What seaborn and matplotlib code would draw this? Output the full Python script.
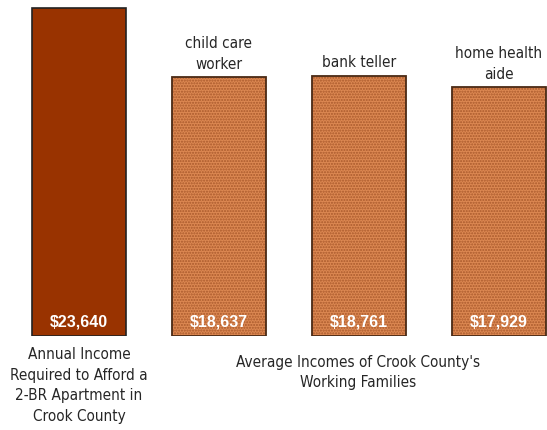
import matplotlib
matplotlib.use("Agg")
import matplotlib.pyplot as plt
import matplotlib.patches as mpatches
import seaborn as sns
import pandas as pd

# data
jobs = ["required", "child care\nworker", "bank teller", "home health\naide"]
incomes = [23640, 18637, 18761, 17929]
top_labels = ["", "child care\nworker", "bank teller", "home health\naide"]

df = pd.DataFrame({"job": jobs, "income": incomes})

sns.set_style("white")
plt.rcParams["font.family"] = ["DejaVu Sans"]
plt.rcParams["font.stretch"] = "condensed"

fig = plt.figure(figsize=(5.47, 4.30), dpi=100)
ax = fig.add_axes([0, 1 - 336 / 430, 1, 336 / 430])

sns.barplot(data=df, x="job", y="income", ax=ax, width=0.67,
            palette=["#993300", "#DC8852", "#DC8852", "#DC8852"],
            hue="job", legend=False, saturation=1)

for i, p in enumerate(list(ax.patches)):
    if i == 0:
        p.set_edgecolor("#222222")
        p.set_linewidth(1.2)
    else:
        # hatch colour follows edge colour, so outline is drawn separately
        p.set_edgecolor("#A9592B")
        p.set_hatch("......")
        p.set_linewidth(0)
        outline = mpatches.Rectangle(p.get_xy(), p.get_width(), p.get_height(),
                                     fill=False, edgecolor="#4a2a15", linewidth=1.3)
        ax.add_patch(outline)

ax.set_xlim(-79 / 140, (547 - 79) / 140)
ax.set_ylim(0, 23640 * 336 / 328)
ax.axis("off")

# value labels inside bars
for i, v in enumerate(incomes):
    ax.text(i, 1000, f"${v:,}", ha="center", va="center", color="white",
            fontsize=11.5, fontweight="bold", family="Liberation Sans", stretch="normal")
    if top_labels[i]:
        ax.annotate(top_labels[i], (i, v), xytext=(0, 4), textcoords="offset points",
                    ha="center", va="bottom", fontsize=11, linespacing=1.45)

fig.text(79 / 547, 1 - 347 / 430, "Annual Income\nRequired to Afford a\n2-BR Apartment in\nCrook County",
         ha="center", va="top", fontsize=11, linespacing=1.47)
fig.text(358 / 547, 1 - 355 / 430, "Average Incomes of Crook County's\nWorking Families",
         ha="center", va="top", fontsize=11, linespacing=1.4)

fig.savefig("out.png", dpi=100)
